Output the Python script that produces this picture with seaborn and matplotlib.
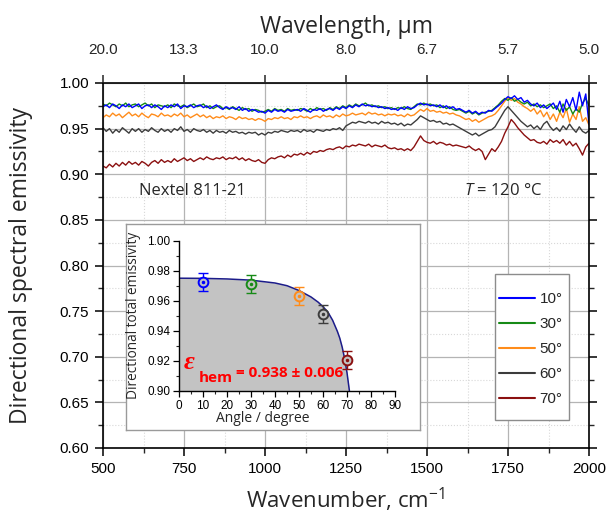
import numpy as np
import pandas as pd
import matplotlib
matplotlib.use("Agg")
import matplotlib.pyplot as plt
import seaborn as sns
from matplotlib.ticker import MultipleLocator, FixedLocator, FormatStrFormatter
from matplotlib.lines import Line2D
from matplotlib.patches import Rectangle

# ---------------- data ----------------
wavenumber = np.arange(500, 2001, 10)

eps_10 = [
    0.974,0.976,0.973,0.977,0.975,0.972,0.976,0.974,0.977,0.973,
    0.975,0.977,0.972,0.975,0.976,0.973,0.976,0.974,0.971,0.975,
    0.973,0.976,0.974,0.977,0.972,0.975,0.974,0.976,0.973,0.975,
    0.976,0.973,0.975,0.972,0.974,0.976,0.973,0.971,0.974,0.972,
    0.973,0.971,0.974,0.970,0.972,0.969,0.971,0.970,0.968,0.969,
    0.967,0.970,0.968,0.971,0.969,0.970,0.968,0.971,0.969,0.970,
    0.971,0.969,0.972,0.970,0.968,0.971,0.970,0.972,0.969,0.971,
    0.972,0.970,0.973,0.971,0.974,0.972,0.975,0.973,0.976,0.974,
    0.977,0.975,0.976,0.974,0.975,0.973,0.974,0.972,0.973,0.971,
    0.972,0.970,0.973,0.971,0.974,0.972,0.973,0.976,0.978,0.976,
    0.977,0.975,0.976,0.974,0.976,0.973,0.975,0.972,0.974,0.971,
    0.972,0.970,0.968,0.970,0.967,0.969,0.966,0.968,0.967,0.970,
    0.969,0.972,0.975,0.978,0.982,0.985,0.983,0.986,0.982,0.984,
    0.979,0.981,0.977,0.975,0.978,0.973,0.976,0.972,0.975,0.978,
    0.971,0.980,0.968,0.982,0.974,0.984,0.970,0.990,0.975,0.988,
    0.955]

eps_30 = [
    0.977,0.975,0.978,0.976,0.974,0.977,0.975,0.978,0.974,0.976,
    0.977,0.974,0.976,0.978,0.975,0.977,0.973,0.976,0.975,0.974,
    0.976,0.973,0.977,0.975,0.974,0.976,0.973,0.975,0.977,0.974,
    0.975,0.977,0.973,0.975,0.972,0.974,0.975,0.972,0.973,0.971,
    0.974,0.972,0.970,0.973,0.971,0.972,0.969,0.971,0.970,0.968,
    0.969,0.971,0.969,0.972,0.970,0.971,0.969,0.972,0.970,0.971,
    0.970,0.972,0.971,0.969,0.972,0.970,0.973,0.971,0.972,0.970,
    0.973,0.971,0.974,0.972,0.975,0.973,0.976,0.974,0.977,0.975,
    0.976,0.978,0.975,0.976,0.974,0.975,0.973,0.974,0.972,0.973,
    0.971,0.973,0.972,0.974,0.972,0.971,0.974,0.977,0.976,0.978,
    0.976,0.977,0.975,0.976,0.973,0.975,0.972,0.974,0.971,0.970,
    0.971,0.969,0.967,0.969,0.966,0.968,0.965,0.967,0.968,0.969,
    0.970,0.973,0.976,0.980,0.983,0.981,0.984,0.980,0.982,0.979,
    0.977,0.979,0.975,0.977,0.974,0.976,0.973,0.975,0.977,0.972,
    0.975,0.968,0.977,0.970,0.974,0.966,0.972,0.968,0.978,0.983,
    0.975]

eps_50 = [
    0.962,0.965,0.963,0.967,0.964,0.966,0.962,0.965,0.968,0.964,
    0.966,0.963,0.967,0.964,0.962,0.966,0.965,0.963,0.967,0.964,
    0.965,0.963,0.966,0.964,0.967,0.963,0.965,0.962,0.964,0.966,
    0.963,0.965,0.962,0.964,0.961,0.963,0.962,0.964,0.961,0.963,
    0.962,0.960,0.963,0.961,0.962,0.960,0.961,0.959,0.961,0.960,
    0.958,0.961,0.960,0.962,0.961,0.963,0.961,0.962,0.960,0.963,
    0.962,0.964,0.962,0.963,0.961,0.963,0.964,0.962,0.965,0.963,
    0.964,0.962,0.965,0.963,0.966,0.964,0.965,0.967,0.965,0.966,
    0.967,0.965,0.968,0.966,0.967,0.965,0.966,0.964,0.966,0.965,
    0.966,0.964,0.965,0.963,0.966,0.964,0.965,0.968,0.971,0.969,
    0.972,0.969,0.970,0.968,0.969,0.967,0.968,0.966,0.967,0.965,
    0.964,0.962,0.960,0.961,0.958,0.960,0.957,0.959,0.961,0.963,
    0.964,0.966,0.970,0.975,0.980,0.984,0.981,0.983,0.979,0.977,
    0.974,0.972,0.969,0.972,0.966,0.970,0.963,0.968,0.960,0.966,
    0.958,0.968,0.962,0.972,0.957,0.966,0.960,0.974,0.958,0.962,
    0.954]

eps_60 = [
    0.951,0.947,0.950,0.945,0.949,0.946,0.951,0.948,0.945,0.950,
    0.947,0.950,0.946,0.949,0.947,0.951,0.948,0.946,0.950,0.947,
    0.949,0.946,0.950,0.948,0.952,0.947,0.949,0.946,0.950,0.948,
    0.947,0.949,0.946,0.948,0.945,0.948,0.946,0.947,0.945,0.948,
    0.946,0.947,0.945,0.946,0.944,0.946,0.945,0.946,0.943,0.945,
    0.943,0.946,0.945,0.947,0.946,0.948,0.947,0.946,0.948,0.947,
    0.948,0.946,0.949,0.947,0.948,0.946,0.949,0.948,0.947,0.949,
    0.948,0.950,0.949,0.951,0.948,0.953,0.955,0.957,0.956,0.958,
    0.957,0.956,0.958,0.956,0.957,0.955,0.958,0.956,0.957,0.955,
    0.956,0.954,0.956,0.953,0.955,0.954,0.957,0.960,0.964,0.962,
    0.960,0.958,0.959,0.957,0.958,0.955,0.956,0.954,0.955,0.953,
    0.951,0.949,0.947,0.945,0.943,0.945,0.942,0.944,0.946,0.948,
    0.949,0.952,0.958,0.964,0.970,0.974,0.970,0.966,0.962,0.958,
    0.955,0.952,0.954,0.950,0.953,0.949,0.955,0.958,0.952,0.948,
    0.951,0.947,0.953,0.949,0.955,0.950,0.946,0.952,0.947,0.945,
    0.948]

eps_70 = [
    0.909,0.907,0.911,0.908,0.912,0.909,0.913,0.910,0.914,0.911,
    0.913,0.910,0.914,0.912,0.909,0.913,0.915,0.912,0.916,0.913,
    0.915,0.913,0.917,0.914,0.916,0.918,0.915,0.917,0.914,0.916,
    0.918,0.916,0.919,0.917,0.916,0.918,0.917,0.919,0.916,0.918,
    0.917,0.919,0.916,0.918,0.915,0.917,0.915,0.914,0.916,0.913,
    0.912,0.916,0.918,0.917,0.919,0.920,0.918,0.921,0.919,0.922,
    0.921,0.923,0.921,0.924,0.922,0.925,0.924,0.926,0.925,0.927,
    0.928,0.927,0.929,0.930,0.928,0.931,0.930,0.932,0.931,0.933,
    0.932,0.931,0.933,0.930,0.932,0.931,0.930,0.932,0.929,0.928,
    0.929,0.927,0.928,0.926,0.928,0.926,0.930,0.936,0.942,0.937,
    0.935,0.934,0.936,0.933,0.935,0.934,0.932,0.933,0.931,0.932,
    0.931,0.930,0.929,0.931,0.928,0.926,0.928,0.925,0.916,0.922,
    0.928,0.925,0.930,0.936,0.945,0.952,0.960,0.956,0.951,0.947,
    0.943,0.940,0.937,0.938,0.935,0.934,0.936,0.933,0.938,0.935,
    0.937,0.934,0.938,0.932,0.936,0.931,0.934,0.928,0.921,0.930,
    0.934]

angle_labels = ["10°", "30°", "50°", "60°", "70°"]
series_colors = ["#0000ff", "#168a16", "#ff8c1a", "#3c3c3c", "#8b1010"]

top_tick_wn = [500, 750, 1000, 1250, 1500, 1750, 2000]
top_tick_labels = ["20.0", "13.3", "10.0", "8.0", "6.7", "5.7", "5.0"]

# inset data
pt_angle = [10, 30, 50, 60, 70]
pt_eps = [0.9723, 0.9713, 0.9631, 0.9509, 0.9205]
pt_err = [0.006, 0.006, 0.006, 0.006, 0.006]
fit_angle = [0, 10, 20, 30, 40, 45, 50, 55, 58, 60, 62, 64, 66, 67, 68, 69, 70, 70.5, 71]
fit_eps = [0.9750, 0.9749, 0.9745, 0.9737, 0.9718, 0.9700, 0.9668, 0.9625, 0.9590,
           0.9560, 0.9525, 0.9470, 0.9395, 0.9350, 0.9290, 0.9215, 0.9120, 0.9060, 0.9000]

# ---------------- style ----------------
sns.set_theme(style="ticks")
plt.rcParams['font.family'] = ['Liberation Sans', 'DejaVu Sans']
plt.rcParams['mathtext.fontset'] = 'custom'
plt.rcParams['mathtext.rm'] = 'Open Sans'
plt.rcParams['mathtext.it'] = 'Open Sans:italic'
plt.rcParams['axes.unicode_minus'] = False
label_font = ['Open Sans', 'DejaVu Sans']

fig = plt.figure(figsize=(6.15, 5.17), dpi=100)
fig.patch.set_facecolor("white")
W, H = 615.0, 517.0
ax = fig.add_axes([103 / W, 1 - 448 / H, 486 / W, 365 / H])

series = {"10°": eps_10, "30°": eps_30, "50°": eps_50, "60°": eps_60, "70°": eps_70}
df = pd.concat([pd.DataFrame({"wn": wavenumber, "eps": v, "angle": k}) for k, v in series.items()])
palette = dict(zip(angle_labels, series_colors))
sns.lineplot(data=df, x="wn", y="eps", hue="angle", hue_order=angle_labels[::-1],
             palette=palette, estimator=None, sort=False, lw=1.0, ax=ax, legend=False)

ax.set_xlim(500, 2000)
ax.set_ylim(0.60, 1.00)
ax.xaxis.set_major_locator(MultipleLocator(250))
ax.xaxis.set_minor_locator(MultipleLocator(125))
ax.yaxis.set_major_locator(MultipleLocator(0.05))
ax.yaxis.set_minor_locator(MultipleLocator(0.025))
ax.yaxis.set_major_formatter(FormatStrFormatter("%.2f"))
ax.grid(which="major", color="#b4b4b4", lw=0.9, ls="-")
ax.grid(which="minor", color="#d8d8d8", lw=0.8, ls=":")
ax.set_axisbelow(True)
for s in ax.spines.values():
    s.set_color("black")
    s.set_linewidth(1.2)
ax.tick_params(which="major", direction="out", length=6, width=1.1, labelsize=11,
               right=True, labelright=False, colors="black", pad=4)
ax.tick_params(which="minor", direction="out", length=3.5, width=1.0, right=True)
ax.set_xlabel("Wavenumber, cm$^{-1}$", fontsize=16, family=label_font)
ax.xaxis.set_label_coords(0.5, -(486 - 448) / 365)
ax.set_ylabel("Directional spectral emissivity", fontsize=16.5, family=label_font)
ax.yaxis.set_label_coords(-(103 - 33) / 486, 0.5)

ax2 = ax.twiny()
ax2.set_xlim(500, 2000)
ax2.xaxis.set_major_locator(FixedLocator(top_tick_wn))
ax2.set_xticklabels(top_tick_labels)
ax2.tick_params(which="major", direction="out", length=6, width=1.1, labelsize=11, pad=13)
ax2.set_xlabel("Wavelength, µm", fontsize=16.5, family=label_font)
ax2.xaxis.set_label_coords(0.5, (448 - 33) / 365)
for s in ax2.spines.values():
    s.set_visible(False)

ax.text(775, 0.8816, "Nextel 811-21", fontsize=12, family=label_font, ha="center", va="center")
ax.text(1735, 0.8816, "$T$ = 120 °C", fontsize=12, family=label_font, ha="center", va="center")

# legend (frame drawn separately)
ax.add_patch(Rectangle(((495 - 103) / 486, (448 - 420) / 365), 74 / 486, 146 / 365,
                       transform=ax.transAxes, facecolor="white", edgecolor="#8c8c8c",
                       lw=1.0, zorder=4))
handles = [Line2D([0], [0], color=c, lw=1.5) for c in series_colors]
leg = ax.legend(handles, angle_labels, loc="upper left",
                bbox_to_anchor=((499 - 103) / 486, (448 - 292) / 365),
                fontsize=11, frameon=False,
                handlelength=2.35, handletextpad=0.3, labelspacing=0.72, borderpad=0,
                borderaxespad=0)
leg.set_zorder(5)

# inset frame
frame_ax = fig.add_axes([126 / W, 1 - 430 / H, 294 / W, 206 / H])
frame_ax.set_facecolor("white")
frame_ax.set_xticks([])
frame_ax.set_yticks([])
for s in frame_ax.spines.values():
    s.set_color("#9a9a9a")
    s.set_linewidth(1.0)
frame_ax.set_zorder(5)

inax = fig.add_axes([179 / W, 1 - 390.7 / H, 216 / W, 150 / H])
inax.set_zorder(6)
inax.patch.set_alpha(0)
inax.fill_between(fit_angle, fit_eps, 0.90, color="#c3c3c3", lw=0)
sns.lineplot(x=fit_angle, y=fit_eps, color="#1c1c8a", lw=1.1, ax=inax, sort=False)
pt_colors = series_colors
for a, e, er, c in zip(pt_angle, pt_eps, pt_err, pt_colors):
    inax.errorbar(a, e, yerr=er, fmt="none", ecolor=c, elinewidth=1.0, capsize=3.3, capthick=1.0, zorder=5)
    inax.plot(a, e, marker="o", ms=7.0, mfc="#c3c3c3", mec=c, mew=1.4, zorder=7)
    inax.plot(a, e, marker="o", ms=1.5, color=c, mfc=c, mec=c, zorder=8)
inax.set_xlim(0, 90)
inax.set_ylim(0.90, 1.00)
inax.xaxis.set_major_locator(MultipleLocator(10))
inax.xaxis.set_minor_locator(MultipleLocator(5))
inax.yaxis.set_major_locator(MultipleLocator(0.02))
inax.yaxis.set_minor_locator(MultipleLocator(0.01))
inax.yaxis.set_major_formatter(FormatStrFormatter("%.2f"))
inax.spines["top"].set_visible(False)
inax.spines["right"].set_visible(False)
for s in ["left", "bottom"]:
    inax.spines[s].set_color("black")
    inax.spines[s].set_linewidth(1.0)
inax.tick_params(which="major", direction="out", length=4, width=0.9, labelsize=8.5, pad=2, colors="black")
inax.tick_params(axis="x", which="major", pad=2.5)
inax.tick_params(which="minor", direction="out", length=2.5, width=0.8)
inax.set_xlabel("Angle / degree", fontsize=10, family=label_font)
inax.xaxis.set_label_coords((263 - 179) / 216, -(411 - 390.7) / 150)
inax.set_ylabel("Directional total emissivity", fontsize=9.8, family=label_font)
inax.yaxis.set_label_coords(-(179 - 141) / 216, 0.5)

fig.text(184 / W, 1 - 369 / H, "ε", fontsize=19, color="#ff0000", style="italic", weight="bold",
         family=["Liberation Serif", "DejaVu Serif"], zorder=10)
fig.text(199 / W, 1 - 382 / H, "hem", fontsize=11, color="#ff0000", weight="bold",
         family=label_font, zorder=10)
fig.text(236 / W, 1 - 377 / H, "= 0.938 ± 0.006", fontsize=11, color="#ff0000", weight="bold",
         family=label_font, zorder=10)

fig.savefig("out.png", dpi=100, facecolor="white")
